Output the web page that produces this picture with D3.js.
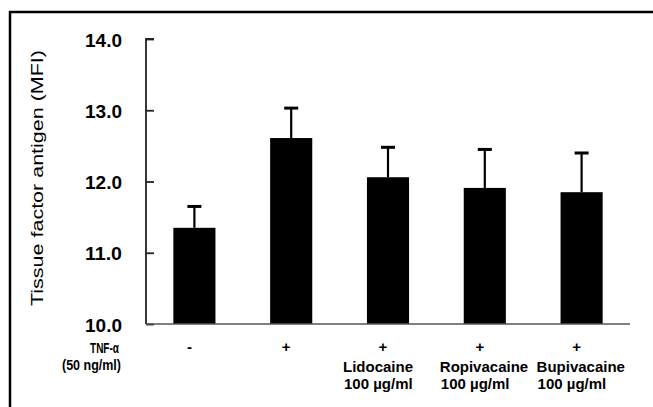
<!DOCTYPE html>
<html>
<head>
<meta charset="utf-8">
<script src="https://cdn.jsdelivr.net/npm/d3@7"></script>
<style>
  html, body { margin: 0; padding: 0; background: #fff; }
  svg { display: block; }
  text { font-family: "Liberation Sans", Arial, sans-serif; fill: #000; }
</style>
</head>
<body>
<svg id="chart" width="653" height="407"></svg>
<script>
// ---- Data ----
const categories = ["Control", "TNF", "Lidocaine", "Ropivacaine", "Bupivacaine"];
const tnfSigns = ["-", "+", "+", "+", "+"];
const drugNames = ["", "", "Lidocaine", "Ropivacaine", "Bupivacaine"];
const drugDoses = ["", "", "100 µg/ml", "100 µg/ml", "100 µg/ml"];
const means = [11.35, 12.61, 12.06, 11.91, 11.85];
const errors = [0.30, 0.42, 0.42, 0.54, 0.55];
const yTicks = [10, 11, 12, 13, 14];
const yLabel = "Tissue factor antigen (MFI)";
const rowLabel1 = "TNF-α";
const rowLabel2 = "(50 ng/ml)";

// ---- Layout ----
const svg = d3.select("#chart");
const x0 = 146, x1 = 630, yBase = 324, yTop = 39;

const x = d3.scaleBand().domain(categories).range([x0, x1])
  .paddingInner(0.565).paddingOuter(0.2825);
const y = d3.scaleLinear().domain([10, 14]).range([yBase, yTop]);

// frame (top and left lines)
svg.append("line").attr("x1", 9).attr("x2", 653).attr("y1", 12).attr("y2", 12)
  .attr("stroke", "#000").attr("stroke-width", 2.5);
svg.append("line").attr("x1", 10).attr("x2", 10).attr("y1", 11).attr("y2", 407)
  .attr("stroke", "#000").attr("stroke-width", 2.5);

// bars
svg.selectAll("rect.bar").data(categories).enter().append("rect")
  .attr("class", "bar")
  .attr("x", d => x(d))
  .attr("width", x.bandwidth())
  .attr("y", (d, i) => y(means[i]))
  .attr("height", (d, i) => yBase - y(means[i]))
  .attr("fill", "#000");

// error bars
const eg = svg.append("g");
categories.forEach((c, i) => {
  const cx = x(c) + x.bandwidth() / 2;
  eg.append("line").attr("x1", cx).attr("x2", cx)
    .attr("y1", y(means[i])).attr("y2", y(means[i] + errors[i]))
    .attr("stroke", "#000").attr("stroke-width", 2.2);
  eg.append("line").attr("x1", cx - 7).attr("x2", cx + 7)
    .attr("y1", y(means[i] + errors[i])).attr("y2", y(means[i] + errors[i]))
    .attr("stroke", "#000").attr("stroke-width", 3);
});

// y axis
const yAxis = d3.axisRight(y).tickValues(yTicks).tickSize(8).tickFormat("");
const ya = svg.append("g").attr("transform", `translate(${x0},0)`).call(yAxis);
ya.select(".domain").attr("stroke", "#222").attr("stroke-width", 1.8)
  .attr("d", `M8,${yTop}H0V${yBase}H0`);
ya.selectAll(".tick line").attr("stroke", "#222").attr("stroke-width", 1.8);

// y tick labels
svg.append("g").selectAll("text").data(yTicks).enter().append("text")
  .attr("x", 122).attr("y", d => y(d) + 7.5)
  .attr("text-anchor", "end")
  .attr("font-size", 18).attr("font-weight", "bold")
  .attr("textLength", 37).attr("lengthAdjust", "spacingAndGlyphs")
  .text(d => d3.format(".1f")(d));

// x axis baseline
svg.append("line").attr("x1", x0).attr("x2", x1).attr("y1", yBase).attr("y2", yBase)
  .attr("stroke", "#555").attr("stroke-width", 1.5);

// y label
svg.append("text")
  .attr("transform", `translate(43,178) rotate(-90)`)
  .attr("text-anchor", "middle")
  .attr("font-size", 17)
  .attr("fill", "#111")
  .attr("textLength", 256).attr("lengthAdjust", "spacingAndGlyphs")
  .text(yLabel);

// row labels
svg.append("text").attr("x", 119).attr("y", 353).attr("text-anchor", "end")
  .attr("font-size", 14).attr("font-weight", "bold")
  .attr("textLength", 29).attr("lengthAdjust", "spacingAndGlyphs").text(rowLabel1);
svg.append("text").attr("x", 121).attr("y", 370).attr("text-anchor", "end")
  .attr("font-size", 14).attr("font-weight", "bold")
  .attr("textLength", 59).attr("lengthAdjust", "spacingAndGlyphs").text(rowLabel2);

// +/- signs
svg.append("g").selectAll("text").data(categories).enter().append("text")
  .attr("x", (d, i) => x(d) + x.bandwidth() / 2 - 5)
  .attr("y", 352)
  .attr("text-anchor", "middle")
  .attr("font-size", 15).attr("font-weight", "bold")
  .text((d, i) => tnfSigns[i]);

// drug names and doses
svg.append("g").selectAll("text").data(categories).enter().append("text")
  .attr("x", d => x(d) + x.bandwidth() / 2 - 45)
  .attr("y", 372)
  .attr("font-size", 15).attr("font-weight", "bold")
  .text((d, i) => drugNames[i]);
svg.append("g").selectAll("text").data(categories).enter().append("text")
  .attr("x", d => x(d) + x.bandwidth() / 2 - 44)
  .attr("y", 389)
  .attr("font-size", 15).attr("font-weight", "bold")
  .text((d, i) => drugDoses[i]);
</script>
</body>
</html>
